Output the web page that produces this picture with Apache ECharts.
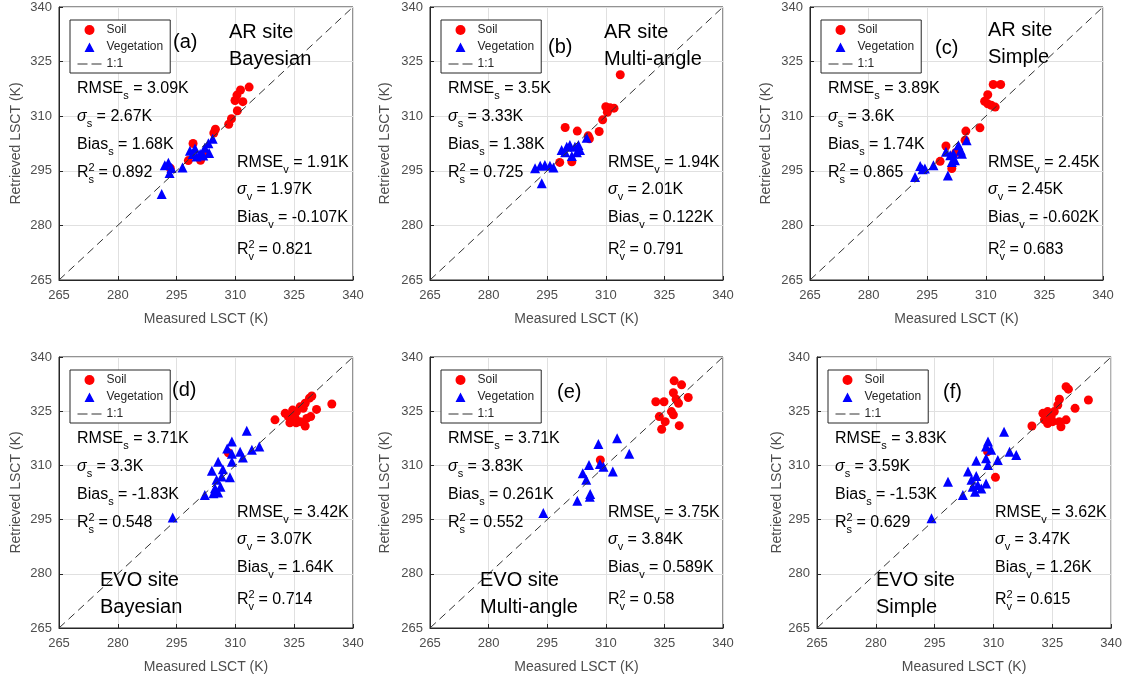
<!DOCTYPE html>
<html><head><meta charset="utf-8">
<script src="https://cdn.jsdelivr.net/npm/echarts@6/dist/echarts.min.js"></script>
<style>html,body{margin:0;padding:0;background:#fff}#c{width:1125px;height:678px}</style>
</head><body><div id="c"></div>
<script>
const axisMin = 265, axisMax = 340, axisStep = 15;
const oneToOne = [[265,265],[340,340]];
const panelLabels = ['(a)','(b)','(c)','(d)','(e)','(f)'];
const siteNames = ['AR site','AR site','AR site','EVO site','EVO site','EVO site'];
const methods = ['Bayesian','Multi-angle','Simple','Bayesian','Multi-angle','Simple'];
const rmseS = ['3.09','3.5','3.89','3.71','3.71','3.83'];
const sigmaS = ['2.67','3.33','3.6','3.3','3.83','3.59'];
const biasS = ['1.68','1.38','1.74','-1.83','0.261','-1.53'];
const r2S = ['0.892','0.725','0.865','0.548','0.552','0.629'];
const rmseV = ['1.91','1.94','2.45','3.42','3.75','3.62'];
const sigmaV = ['1.97','2.01','2.45','3.07','3.84','3.47'];
const biasV = ['-0.107','0.122','-0.602','1.64','0.589','1.26'];
const r2V = ['0.821','0.791','0.683','0.714','0.58','0.615'];

const soilA = [[313.5,318],[311.3,317.2],[310.4,315.8],[309.9,314.3],[311.9,314],[310.5,311.5],[309,309.3],[308.3,307.8],[304.9,306.4],[304.5,305.4],[299.2,302.5],[298,297.8],[301.1,297.9],[302,299.5],[293.4,295.7]];
const vegA = [[291.2,288.6],[292,296.5],[292.9,297.2],[293.7,295.8],[293.2,294.4],[296.5,295.9],[298.4,300.5],[299.7,301.1],[301,299.6],[301.8,299.2],[300.1,298.9],[303.3,299.9],[303.1,302.6],[304.2,303.8],[302.2,301.3],[299.1,299.6]];
const soilB = [[313.7,321.4],[310,312.6],[311.1,312.3],[312.1,312.2],[310.4,311.1],[309.2,309],[308.3,305.8],[299.6,306.9],[302.7,305.9],[305.5,304.6],[305.8,303.8],[298.2,297.3],[301.3,297.5]];
const vegB = [[293.6,291.6],[291.9,295.7],[293.2,296.4],[294.4,296.6],[295.7,296.4],[296.6,295.9],[298.7,300.7],[300,301.6],[300.8,302.1],[302.1,301.6],[303,302.1],[303.4,300.7],[301.3,299.1],[305.1,304.1],[302.6,300.1],[299.6,300.1]];
const soilC = [[311.9,318.7],[313.8,318.7],[310.5,315.9],[309.7,314.1],[310.5,313.4],[311.4,313],[312.4,312.5],[308.5,306.8],[304.9,305.9],[304.7,303.4],[299.8,301.8],[298.3,297.6],[301.3,295.6],[302.3,300]];
const vegC = [[291.9,293.3],[293.2,296.3],[294.4,295.6],[296.6,296.5],[293.8,295.4],[299.8,300.2],[300.3,293.7],[301.7,299.7],[303,302],[303.9,299.7],[302.1,297.9],[300.9,299.3],[305.1,303.4],[303.6,300.6],[301.3,297.4]];
const soilD = [[320.1,322.6],[322.7,324.4],[323.5,323.5],[324.6,325.3],[325.6,324.9],[326.5,326.2],[327.8,327.2],[328.9,328.6],[329.5,329.2],[327.3,325.8],[328.2,323],[326.5,322.1],[327.8,320.9],[325.5,321.8],[323.9,321.8],[330.7,325.5],[334.6,327],[329.2,323.5],[325.2,323.3],[308.2,313.5]];
const vegD = [[294,295.6],[302.2,301.8],[312.9,319.6],[309.1,316.6],[307.9,314.7],[309.1,313.2],[311.2,313.8],[311.9,312.2],[314.2,314.3],[316.1,315.2],[309.1,311],[305.6,311],[304,308.5],[306.8,308.9],[306.5,306.9],[308.6,306.7],[305.2,306],[304.8,303.7],[305.6,302.5],[304.4,302.3],[306.2,304.1]];
const soilE = [[327.5,333.4],[329.4,332.3],[322.8,327.6],[324.9,327.6],[327.3,330.1],[328,328.3],[328.6,327.2],[331.1,328.8],[326.8,324.9],[327.3,324],[323.7,323.5],[325.2,322.1],[324.3,320],[328.8,321],[308.6,311.5]];
const vegE = [[294,296.8],[308.1,315.9],[312.9,317.5],[316,313.2],[305.7,310.1],[308.5,310.4],[309.4,309.6],[311.8,308.3],[304.1,307.8],[305,306],[306,302.1],[305.9,301.3],[302.7,300.2]];
const soilF = [[328.5,331.8],[329.1,331.1],[326.8,328.3],[326.4,326.7],[334.2,328.1],[330.8,325.8],[322.6,324.4],[323.8,324.9],[324.7,323.5],[323,322.6],[325.1,322.1],[326.8,322.1],[328.5,322.6],[323.8,321.6],[327.2,320.7],[319.8,320.9],[310.5,306.7],[308.5,313.8],[325.5,324.9]];
const vegF = [[294.2,295.4],[312.7,319.3],[308.6,316.6],[308.1,315.2],[309.4,314.3],[314.1,313.8],[315.8,312.9],[305.6,311.3],[311.1,311.5],[308.1,312],[308.6,310.1],[303.5,308.3],[305.6,307.1],[304.4,306],[308.1,305],[306,304.6],[304.7,304.1],[305.3,302.7],[306.9,303.6],[302.2,301.8],[298.4,305.5]];

const soilSets = [soilA, soilB, soilC, soilD, soilE, soilF];
const vegSets = [vegA, vegB, vegC, vegD, vegE, vegF];

const FONT = '"Liberation Sans", Arial, sans-serif';
const grids = [
  {left:59, top:7, width:294, height:273},
  {left:430, top:7, width:293, height:273},
  {left:810, top:7, width:293, height:273},
  {left:59, top:357, width:294, height:271},
  {left:430, top:357, width:293, height:271},
  {left:817, top:357, width:295, height:271}
];
const labelDY = [35,40,41,33,35,35];
const labelDX = [114,118,125,113,127,126];
const siteDX = [170,174,178,41,50,59];
const siteDY = [25,25,23,223,223,223];
const yNameGap = [36,38,37,36,38,33];
const TRI_ICON = 'path://M0,0L0,0ZM24,10L24,10ZM7,10L12,0.6L17,10Z';

const chart = echarts.init(document.getElementById('c'), null, {renderer:'canvas'});
const xAxes = [], yAxes = [], series = [], legends = [], graphics = [];
const axisCommon = {
  type:'value', min:axisMin, max:axisMax, interval:axisStep,
  axisLine:{show:true, lineStyle:{color:'#262626', width:1}},
  axisTick:{show:true, inside:true, length:4, lineStyle:{color:'#262626'}},
  splitLine:{show:true, lineStyle:{color:'#e0e0e0', width:1}},
  axisLabel:{color:'#4d4d4d', fontSize:13, fontFamily:FONT},
  nameLocation:'middle',
  nameTextStyle:{color:'#4d4d4d', fontSize:14, fontFamily:FONT}
};
const rich = {
  m:{fontSize:16, fontFamily:FONT, fill:'#000', color:'#000'},
  g:{fontSize:16, fontFamily:FONT, fontStyle:'italic', fill:'#000', color:'#000'},
  sub:{fontSize:11, fontFamily:FONT, fill:'#000', color:'#000', padding:[13,0,0,0]},
  sup:{fontSize:11, fontFamily:FONT, fill:'#000', color:'#000', padding:[0,0,11,0], width:0}
};
function addText(x, y, text, size, useRich){
  const st = {text:text, x:0, y:0, align:'left', verticalAlign:'middle', textAlign:'left', textVerticalAlign:'middle', fill:'#000'};
  if (useRich) st.rich = rich; else st.font = size + 'px ' + FONT;
  graphics.push({type:'text', x:x, y:y, z:100, style:st});
}
grids.forEach((g, i) => {
  xAxes.push(Object.assign({}, axisCommon, {gridIndex:i, name:'Measured LSCT (K)', nameGap:32,
    axisLabel:Object.assign({}, axisCommon.axisLabel, {margin:9})}));
  yAxes.push(Object.assign({}, axisCommon, {gridIndex:i, name:'Retrieved LSCT (K)', nameGap:yNameGap[i],
    axisLabel:Object.assign({}, axisCommon.axisLabel, {margin:7})}));
  series.push({type:'scatter', name:'Soil', xAxisIndex:i, yAxisIndex:i, data:soilSets[i],
    symbol:'circle', symbolSize:9, symbolKeepAspect:true, itemStyle:{color:'#ff0000', opacity:1}, z:2});
  series.push({type:'scatter', name:'Vegetation', xAxisIndex:i, yAxisIndex:i, data:vegSets[i],
    symbol:'triangle', symbolSize:10, symbolKeepAspect:true, itemStyle:{color:'#0000ff', opacity:1}, z:3});
  series.push({type:'line', name:'1:1', xAxisIndex:i, yAxisIndex:i, data:oneToOne,
    symbol:'none', lineStyle:{color:'#333', width:1, type:[8,5]}, itemStyle:{color:'#333'}, z:4, silent:true});
  legends.push({left:g.left+11, top:g.top+13, orient:'vertical', selectedMode:false,
    symbolKeepAspect:true,
    data:[
      {name:'Soil', icon:'circle'},
      {name:'Vegetation', icon:TRI_ICON},
      {name:'1:1', itemStyle:{color:'rgba(0,0,0,0)', borderWidth:0, opacity:0}, lineStyle:{type:[10,4], width:1, color:'#333'}}
    ],
    itemWidth:24, itemHeight:10, itemGap:5,
    padding:[4,7,3,7], borderColor:'#262626', borderWidth:1, backgroundColor:'#fff',
    textStyle:{fontSize:12, color:'#262626', fontFamily:FONT}});
  const L = g.left, T = g.top;
  addText(L+labelDX[i], T+labelDY[i], panelLabels[i], 20, false);
  addText(L+siteDX[i], T+siteDY[i], siteNames[i], 20, false);
  addText(L+siteDX[i], T+siteDY[i]+27, methods[i], 20, false);
  addText(L+18, T+82, '{m|RMSE}{sub|s}{m| = '+rmseS[i]+'K}', 16, true);
  addText(L+18, T+110, '{g|σ}{sub|s}{m| = '+sigmaS[i]+'K}', 16, true);
  addText(L+18, T+138, '{m|Bias}{sub|s}{m| = '+biasS[i]+'K}', 16, true);
  addText(L+18, T+166, '{m|R}{sup|2}{sub|s}{m| = '+r2S[i]+'}', 16, true);
  addText(L+178, T+156, '{m|RMSE}{sub|v}{m| = '+rmseV[i]+'K}', 16, true);
  addText(L+178, T+183, '{g|σ}{sub|v}{m| = '+sigmaV[i]+'K}', 16, true);
  addText(L+178, T+211, '{m|Bias}{sub|v}{m| = '+biasV[i]+'K}', 16, true);
  addText(L+178, T+243, '{m|R}{sup|2}{sub|v}{m| = '+r2V[i]+'}', 16, true);
});
chart.setOption({
  animation:false,
  backgroundColor:'#fff',
  grid:grids.map(g => Object.assign({show:true, borderColor:'#262626', borderWidth:1, backgroundColor:'#fff'}, g)),
  xAxis:xAxes, yAxis:yAxes, legend:legends, series:series, graphic:graphics
});
</script></body></html>
